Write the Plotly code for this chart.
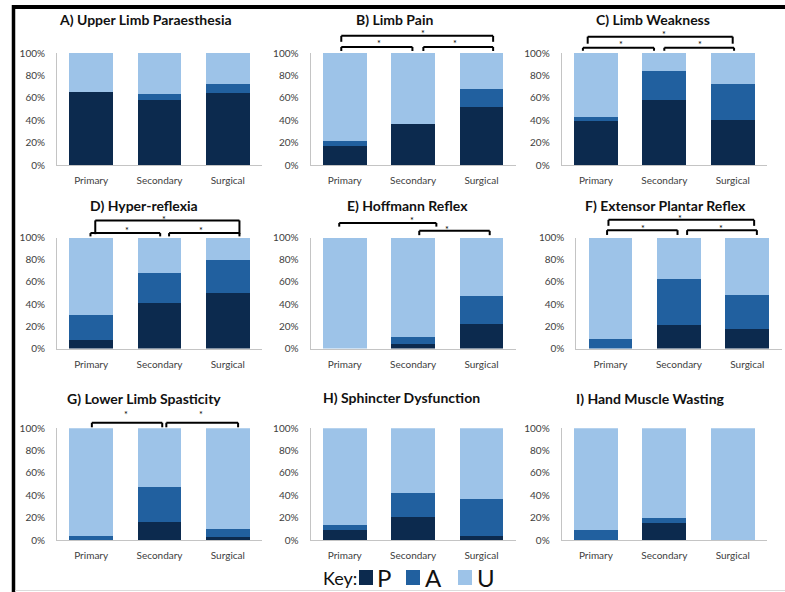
import plotly.graph_objects as go

W, H = 785, 592

categories = ["Primary", "Secondary", "Surgical"]
panel_titles = ["A) Upper Limb Paraesthesia", "B) Limb Pain", "C) Limb Weakness",
                "D) Hyper-reflexia", "E) Hoffmann Reflex", "F) Extensor Plantar Reflex",
                "G) Lower Limb Spasticity", "H) Sphincter Dysfunction", "I) Hand Muscle Wasting"]
ytick_vals = [0, 20, 40, 60, 80, 100]
ytick_text = ["0%", "20%", "40%", "60%", "80%", "100%"]

# Percent of patients per category (Primary, Secondary, Surgical)
P_A = [65, 58, 64]; A_A = [0, 5, 8];   U_A = [35, 37, 28]
P_B = [17, 37, 52]; A_B = [4, 0, 16];  U_B = [79, 63, 32]
P_C = [39, 58, 40]; A_C = [4, 26, 32]; U_C = [57, 16, 28]
P_D = [8, 41, 50];  A_D = [22, 27, 30]; U_D = [70, 32, 20]
P_E = [0, 4, 22];   A_E = [0, 6, 25];  U_E = [100, 90, 53]
P_F = [0, 21, 18];  A_F = [9, 42, 30]; U_F = [91, 37, 52]
P_G = [0, 16, 3];   A_G = [4, 31, 7];  U_G = [96, 53, 90]
P_H = [9, 21, 4];   A_H = [4, 21, 33]; U_H = [87, 58, 63]
P_I = [0, 15, 0];   A_I = [9, 5, 0];   U_I = [91, 80, 100]

P_all = [P_A, P_B, P_C, P_D, P_E, P_F, P_G, P_H, P_I]
A_all = [A_A, A_B, A_C, A_D, A_E, A_F, A_G, A_H, A_I]
U_all = [U_A, U_B, U_C, U_D, U_E, U_F, U_G, U_H, U_I]

# significance brackets: (x0, x1, y_top, y_bottom, star_x, star_y) in category / percent units
brackets = {
    1: [(-0.05, 2.17, 115.3, 110.0, 1.14, 119.0),
        (-0.05, 0.99, 105.4, 101.8, 0.50, 110.0),
        (1.15, 2.17, 105.4, 101.8, 1.61, 110.0)],
    2: [(-0.12, 2.00, 114.6, 108.3, 1.00, 118.3),
        (-0.19, 0.85, 104.7, 102.0, 0.37, 109.5),
        (1.00, 2.02, 104.7, 102.0, 1.52, 109.5)],
    3: [(0.06, 2.17, 115.4, 103.0, 1.06, 117.6),
        (-0.01, 1.01, 104.0, 101.0, 0.52, 107.8),
        (1.14, 2.17, 104.0, 101.0, 1.60, 107.8)],
    4: [(-0.08, 1.34, 113.1, 109.8, 0.98, 117.5),
        (1.09, 2.12, 106.0, 102.1, 1.49, 109.0)],
    5: [(-0.03, 2.10, 115.9, 110.5, 1.01, 119.3),
        (-0.05, 0.98, 106.6, 102.3, 0.48, 109.6),
        (1.12, 2.14, 106.6, 102.3, 1.62, 109.6)],
    6: [(0.01, 1.04, 105.0, 100.9, 0.51, 114.0),
        (1.10, 2.15, 105.0, 100.9, 1.61, 114.0)],
}

col_px = [(57, 262), (310.5, 515.7), (561.7, 766.9)]
f_px = (576.3, 781.5)
row_px = [(53, 165), (237.5, 348.5), (428.3, 540)]
title_pos = [(145, 20), (394, 20), (653, 20),
             (144, 205.5), (407, 205), (665, 205),
             (144, 398), (401, 397), (650, 398)]

COL_P, COL_A, COL_U = "#0c2a4e", "#21609f", "#9dc3e8"
AX = "#c4c4c4"
TXT = "#404040"
FONT = "Lato"

def px_x(p):
    return p / W

def px_y(p):
    return 1 - p / H

fig = go.Figure()
layout = dict(width=W, height=H, margin=dict(l=0, r=0, t=0, b=0, pad=0), autosize=False,
              paper_bgcolor="white", plot_bgcolor="white", barmode="stack",
              showlegend=False, font=dict(family=FONT, color=TXT))
shapes, annotations = [], []
xnums = [0, 1, 2]

for i in range(9):
    r, c = divmod(i, 3)
    n = "" if i == 0 else str(i + 1)
    xa, ya = "x" + n, "y" + n
    xs = f_px if i == 5 else col_px[c]
    ys = row_px[r]
    for vals, col, name in ((P_all[i], COL_P, "P"), (A_all[i], COL_A, "A"), (U_all[i], COL_U, "U")):
        fig.add_trace(go.Bar(x=xnums, y=vals, marker=dict(color=col, line=dict(width=0)),
                             width=0.64, name=name, xaxis=xa, yaxis=ya, hoverinfo="skip"))
    layout["xaxis" + n] = dict(domain=[px_x(xs[0]), px_x(xs[1])], range=[-0.5, 2.5],
                               anchor=ya, tickvals=xnums, ticktext=categories,
                               showline=True, linecolor=AX, linewidth=1, showgrid=False,
                               zeroline=False, ticks="outside", ticklen=6, automargin=False,
                               tickcolor="rgba(0,0,0,0)", tickfont=dict(size=10, color=TXT),
                               fixedrange=True)
    layout["yaxis" + n] = dict(domain=[px_y(ys[1]), px_y(ys[0])], range=[0, 100],
                               anchor=xa, tickvals=ytick_vals, ticktext=ytick_text,
                               showline=True, linecolor=AX, linewidth=1, showgrid=False,
                               zeroline=False, ticks="outside", ticklen=9, automargin=False,
                               tickcolor="rgba(0,0,0,0)", tickfont=dict(size=10, color=TXT),
                               fixedrange=True)
    tx, ty = title_pos[i]
    annotations.append(dict(text="<b>" + panel_titles[i] + "</b>", x=px_x(tx), y=px_y(ty),
                            xref="paper", yref="paper", showarrow=False,
                            xanchor="center", yanchor="middle",
                            font=dict(size=14, color="#111111", family=FONT)))
    for (x0, x1, yt, yb, sx, sy) in brackets.get(i, []):
        dx0, dx1 = (x0 + 0.5) / 3, (x1 + 0.5) / 3
        for seg in ((dx0, yb, dx0, yt), (dx0, yt, dx1, yt), (dx1, yt, dx1, yb)):
            shapes.append(dict(type="line", xref=xa + " domain", yref=ya + " domain",
                               x0=seg[0], y0=seg[1] / 100, x1=seg[2], y1=seg[3] / 100,
                               line=dict(color="black", width=2)))
        annotations.append(dict(text="*", x=(sx + 0.5) / 3, y=sy / 100,
                                xref=xa + " domain", yref=ya + " domain", showarrow=False,
                                xanchor="center", yanchor="middle", yshift=-2,
                                font=dict(size=9, color="black", family=FONT)))

# Key
annotations.append(dict(text="Key:", x=px_x(340), y=px_y(578), xref="paper", yref="paper",
                        showarrow=False, xanchor="center", yanchor="middle",
                        font=dict(size=18, color="#111111", family=FONT)))
key_items = [("P", COL_P, 359, 384), ("A", COL_A, 406, 433), ("U", COL_U, 458, 486)]
for lab, col, sx, lx in key_items:
    shapes.append(dict(type="rect", xref="paper", yref="paper",
                       x0=px_x(sx), x1=px_x(sx + 14), y0=px_y(585), y1=px_y(570),
                       fillcolor=col, line=dict(width=0)))
    annotations.append(dict(text=lab, x=px_x(lx), y=px_y(577), xref="paper", yref="paper",
                            showarrow=False, xanchor="center", yanchor="middle",
                            font=dict(size=24, color="#111111", family=FONT)))

# frame
shapes.append(dict(type="line", xref="paper", yref="paper", x0=px_x(12), x1=1,
                   y0=px_y(7), y1=px_y(7), line=dict(color="black", width=4)))
shapes.append(dict(type="line", xref="paper", yref="paper", x0=px_x(13.5), x1=px_x(13.5),
                   y0=px_y(5), y1=0, line=dict(color="black", width=3.5)))
shapes.append(dict(type="line", xref="paper", yref="paper", x0=px_x(15), x1=1,
                   y0=px_y(590.5), y1=px_y(590.5), line=dict(color="#dcdcdc", width=1)))

layout["shapes"] = shapes
layout["annotations"] = annotations
fig.update_layout(**layout)
fig.write_html("out.html")
